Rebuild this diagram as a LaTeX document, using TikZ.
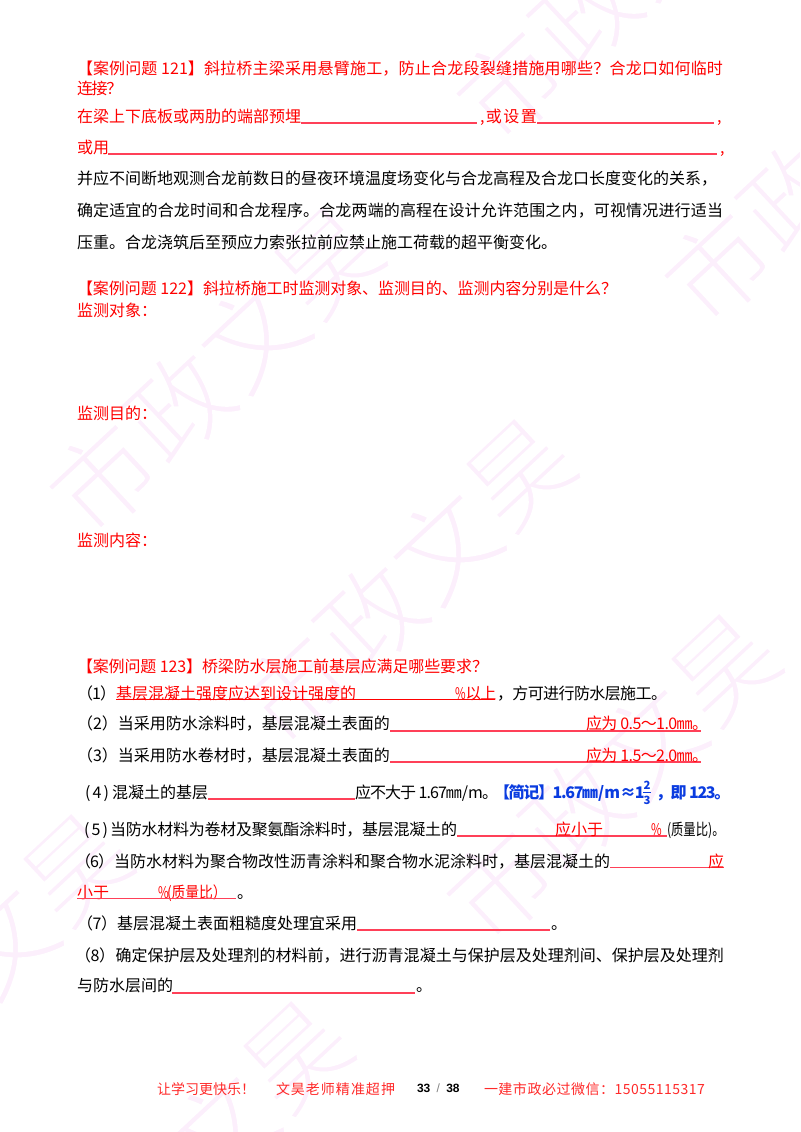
\documentclass[tikz,border=0pt]{standalone}
\usepackage{fontspec}
\usepackage{graphicx}
\setmainfont{Noto Sans CJK SC}
\newfontfamily\pagefont{Liberation Sans}
\XeTeXinterchartokenstate=1
\newcount\cc
\cc="4E00 \loop \XeTeXcharclass\cc=1 \advance\cc by 1 \ifnum\cc<"A000 \repeat
\cc="3000 \loop \XeTeXcharclass\cc=1 \advance\cc by 1 \ifnum\cc<"3040 \repeat
\cc="FF00 \loop \XeTeXcharclass\cc=1 \advance\cc by 1 \ifnum\cc<"FFF0 \repeat
\cc="30 \loop \XeTeXcharclass\cc=1 \advance\cc by 1 \ifnum\cc<"3A \repeat
\XeTeXinterchartoks 1 1={\hskip 0pt plus 1fil minus 1pt\relax}
\XeTeXinterchartoks 0 1={\hskip 0pt plus 1fil minus 1pt\relax}
\XeTeXinterchartoks 1 0={\hskip 0pt plus 1fil minus 1pt\relax}
\definecolor{wm}{HTML}{FCEFFC}
\definecolor{ulred}{HTML}{FF4058}
\definecolor{noteblue}{HTML}{0A3CE0}
\definecolor{footred}{HTML}{FF2A2A}
\tikzset{
  x=0.75pt,y=-0.75pt,
  txt/.style={anchor=base west,inner sep=0pt,outer sep=0pt,font=\fontsize{12}{14}\selectfont,text=black},
  rd/.style={txt,text=red},
  bl/.style={txt,text=noteblue,font=\fontsize{12}{14}\selectfont\bfseries},
  foot/.style={txt,text=footred,font=\fontsize{10.5}{12}\selectfont},
  ul/.style={draw=ulred,line width=1.0pt},
  wmark/.style={inner sep=0pt,text=wm,rotate=43,font=\fontsize{78}{80}\selectfont},
}
% style, name, x, y-centre, width, text
\newcommand\tx[6]{\node[#1] (#2) at (#3,#4+6) {\hbox to #5\dimexpr0.75pt\relax{#6}};}
\newcommand\pct{\scalebox{0.72}[1]{\%}}
\newcommand\thinglyph[1]{\special{pdf:code 2 Tr 2.4 w 1 1 1 RG}#1\special{pdf:code 0 Tr 0 w 0 0 0 RG}}
\newcommand\wmgroup[3]{%
  \node[wmark] (#1a) at (#2,#3) {\thinglyph{市}};
  \node[wmark] (#1b) at (#2+75,#3-72) {\thinglyph{政}};
  \node[wmark] (#1c) at (#2+150,#3-144) {\thinglyph{文}};
  \node[wmark] (#1d) at (#2+225,#3-216) {\thinglyph{昊}};
}
\begin{document}
\begin{tikzpicture}
\useasboundingbox (0,0) rectangle (800,1132);
\fill[white] (0,0) rectangle (800,1132);
\begin{scope}
\clip (0,0) rectangle (800,1132);
\wmgroup{A}{103}{478}
\wmgroup{B}{295}{690}
\wmgroup{C}{500}{885}
\wmgroup{D}{510}{85}
\wmgroup{E}{718}{267}
\wmgroup{F}{72}{1272}
\wmgroup{G}{-148}{1085}
\end{scope}

% question 121
\tx{rd}{ha}{77}{68}{127}{【案例问题 121】}
\tx{rd}{hb}{204}{68}{519}{斜拉桥主梁采用悬臂施工，防止合龙段裂缝措施用哪些？合龙口如何临时}
\tx{rd}{hc}{77}{88}{40}{连接？}
\tx{rd}{la}{77}{116}{224}{在梁上下底板或两肋的端部预埋}
\draw[ul] (301,123) -- (477,123);
\tx{rd}{lb}{480}{116}{57}{,或设置}
\draw[ul] (537,123) -- (714,123);
\tx{rd}{lc}{717}{116}{6}{,}
\tx{rd}{ld}{77}{147}{32}{或用}
\draw[ul] (108,154) -- (717,154);
\tx{rd}{le}{720}{147}{6}{,}
\tx{txt}{pa}{77}{178}{640}{并应不间断地观测合龙前数日的昼夜环境温度场变化与合龙高程及合龙口长度变化的关系，}
\tx{txt}{pb}{77}{210}{646}{确定适宜的合龙时间和合龙程序。合龙两端的高程在设计允许范围之内，可视情况进行适当}
\tx{txt}{pc}{77}{242}{480}{压重。合龙浇筑后至预应力索张拉前应禁止施工荷载的超平衡变化。}

% question 122
\tx{rd}{qa}{77}{288}{126}{【案例问题 122】}
\tx{rd}{qb}{203}{288}{414}{斜拉桥施工时监测对象、监测目的、监测内容分别是什么？}
\tx{rd}{qc}{77}{310}{80}{监测对象：}
\tx{rd}{qd}{77}{413}{80}{监测目的：}
\tx{rd}{qe}{77}{540}{80}{监测内容：}

% question 123
\tx{rd}{ra}{77}{666}{125}{【案例问题 123】}
\tx{rd}{rb}{202}{666}{286}{桥梁防水层施工前基层应满足哪些要求？}
% (1)
\tx{txt}{aa}{77}{693}{39}{（1）}
\tx{rd}{ab}{116}{693}{240}{基层混凝土强度应达到设计强度的}
\tx{rd}{ac}{455}{693}{41}{\pct 以上}
\draw[draw=red,line width=0.9pt] (116,699.5) -- (495,699.5);
\tx{txt}{ad}{497}{693}{170}{，方可进行防水层施工。}
% (2)
\tx{txt}{ba}{77}{723}{313}{（2）当采用防水涂料时，基层混凝土表面的}
\draw[ul] (390,731) -- (701,731);
\tx{rd}{bb}{586}{723}{122}{应为 0.5～1.0㎜。}
% (3)
\tx{txt}{ca}{77}{755}{313}{（3）当采用防水卷材时，基层混凝土表面的}
\draw[ul] (390,762) -- (701,762);
\tx{rd}{cb}{586}{755}{122}{应为 1.5～2.0㎜。}
% (4)
\tx{txt}{da}{85}{792}{24}{(4)}
\tx{txt}{db}{112}{792}{96}{混凝土的基层}
\draw[ul] (208,799) -- (355,799);
\tx{txt}{dc}{355}{792}{143}{应不大于 1.67㎜/m。}
\tx{bl}{dd}{494}{792}{150}{【简记】1.67㎜/m≈1}
\node[bl,anchor=center,font=\fontsize{8.5}{9}\selectfont\bfseries] (de) at (647,785) {2};
\node[bl,anchor=center,font=\fontsize{8.5}{9}\selectfont\bfseries] (df) at (647,800) {3};
\draw[draw=noteblue,line width=0.6pt] (643,792.5) -- (651,792.5);
\tx{bl}{dg}{656}{792}{68}{，即 123。}
% (5)
\tx{txt}{ea}{84}{829}{24}{(5)}
\tx{txt}{eb}{110}{829}{347}{当防水材料为卷材及聚氨酯涂料时，基层混凝土的}
\draw[ul] (457,836) -- (667,836);
\tx{rd}{ec}{555}{829}{48}{应小于}
\tx{rd}{ed}{651}{829}{10}{\pct}
\node[txt] (ee) at (667,835) {\scalebox{0.77}[1]{(质量比)。}};
% (6)
\tx{txt}{fa}{75}{861}{39}{（6）}
\tx{txt}{fb}{114}{861}{496}{当防水材料为聚合物改性沥青涂料和聚合物水泥涂料时，基层混凝土的}
\draw[ul] (610,867.5) -- (724,867.5);
\tx{rd}{fc}{708}{861}{16}{应}
\tx{rd}{fd}{77}{892}{32}{小于}
\tx{rd}{fe}{158}{892}{9}{\pct}
\node[rd] (ff) at (167,898) {\scalebox{0.86}[1]{(质量比）}};
\draw[ul] (77,898.5) -- (236,898.5);
\tx{txt}{fg}{237}{892}{16}{。}
% (7)
\tx{txt}{ga}{77}{923}{40}{（7）}
\tx{txt}{gb}{117}{923}{240}{基层混凝土表面粗糙度处理宜采用}
\draw[ul] (357,930) -- (550,930);
\tx{txt}{gc}{551}{923}{16}{。}
% (8)
\tx{txt}{ha2}{75}{955}{40}{（8）}
\tx{txt}{hb2}{115.5}{955}{608.5}{确定保护层及处理剂的材料前，进行沥青混凝土与保护层及处理剂间、保护层及处理剂}
\tx{txt}{hc2}{77}{985}{96}{与防水层间的}
\draw[ul] (172,993) -- (415,993);
\tx{txt}{hd2}{416}{985}{16}{。}

% footer
\tx{foot}{fta}{157}{1088}{98}{让学习更快乐！}
\tx{foot}{ftb}{276}{1088}{119}{文昊老师精准超押}
\node[foot,text=black,font=\fontsize{9}{10}\selectfont\pagefont] (ftc) at (417,1092) {\XeTeXinterchartokenstate=0 \hbox to 32pt{\textbf{33}\hfil{\color{gray}/}\hfil\textbf{38}}};
\tx{foot}{ftd}{484}{1088}{221}{一建市政必过微信：15055115317}
\end{tikzpicture}
\end{document}
